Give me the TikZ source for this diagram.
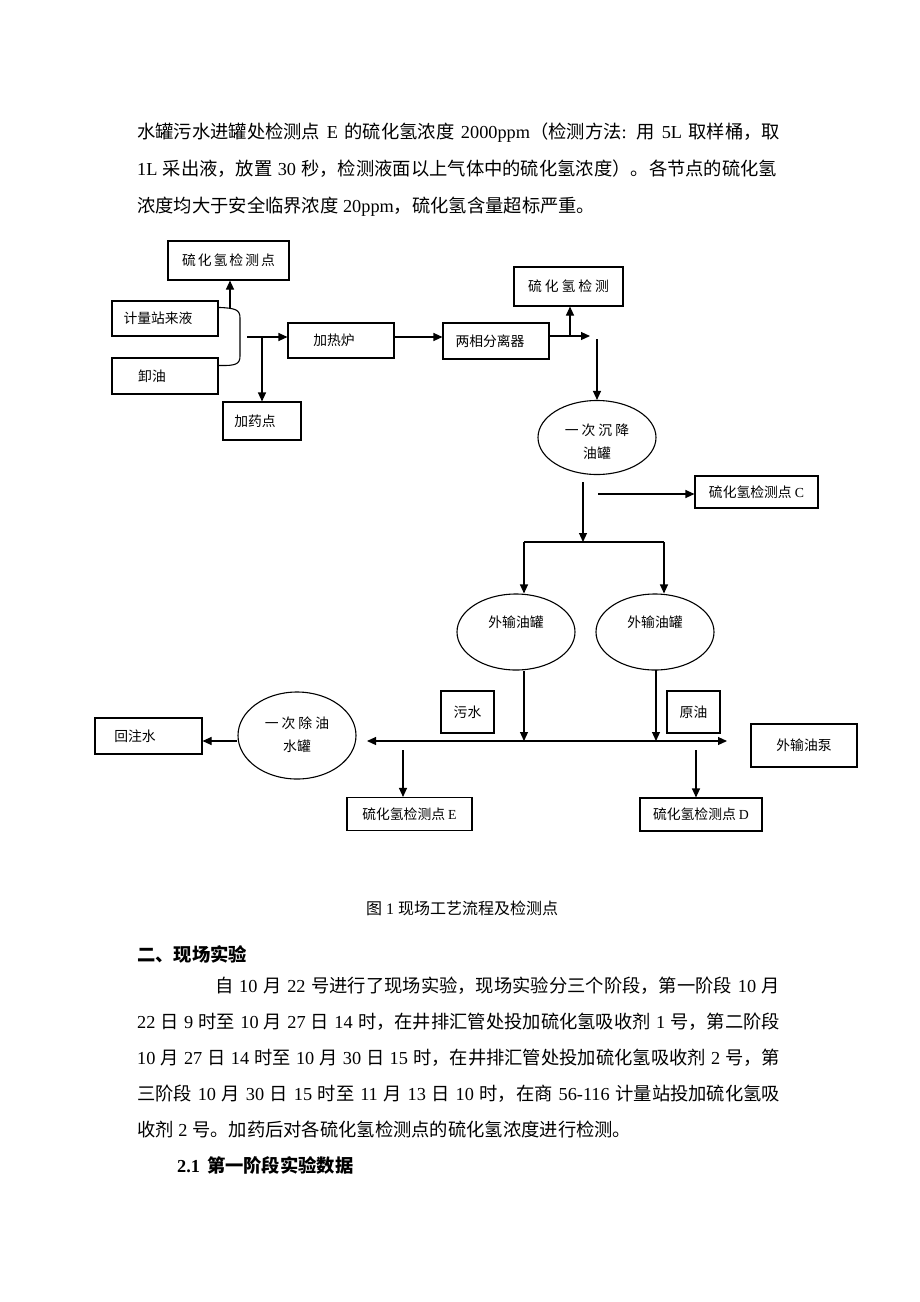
\documentclass[tikz,border=0pt]{standalone}
\usepackage{fontspec}
\setmainfont{Liberation Serif}
\newfontfamily\cjk{Noto Sans CJK SC}
\usetikzlibrary{arrows.meta,shapes.geometric,calc}
\newcommand{\zh}[1]{{\cjk #1}}
\newcommand{\gp}{\hspace{3pt}}
\newcommand{\gq}{\hspace{2pt}}
\newcommand{\dfont}{\fontsize{13.8}{23}\selectfont\cjk}
\newcommand{\bodyfont}{\fontsize{18.3}{22}\selectfont}
\tikzset{
  line/.style={line width=1.1pt, draw=black},
  arr/.style={line, -{Triangle[length=9pt,width=8pt]}},
  arrtwo/.style={line, {Triangle[length=9pt,width=8pt]}-{Triangle[length=9pt,width=8pt]}},
  box/.style={draw, line width=1.1pt, inner sep=0pt, font=\dfont},
  tank/.style={ellipse, draw, line width=1.1pt, inner sep=0pt, font=\dfont, align=center,
               minimum width=118pt},
  body/.style={inner sep=0pt, font=\bodyfont, anchor=base west},
}
\begin{document}
\begin{tikzpicture}[x=1pt,y=-1pt]
\fill[white] (0,0) rectangle (920,1302);
\useasboundingbox (0,0) rectangle (920,1302);

% ---- text above the figure ----
\node[body] (p1) at (137,138) {\makebox[643pt][s]{\zh{水罐污水进罐处检测点} E \zh{的硫化氢浓度} 2000ppm\zh{（检测方法}: \zh{用} 5L \zh{取样桶，取}}};
\node[body] (p2) at (137,175) {\makebox[640pt][s]{1L \zh{采出液，放置} 30 \zh{秒，检测液面以上气体中的硫化氢浓度）。各节点的硫化氢}}};
\node[body] (p3) at (137,212) {\zh{浓度均大于安全临界浓度} 20ppm\zh{，硫化氢含量超标严重。}};

% ---- figure nodes ----
\node[box, minimum width=121pt, minimum height=39pt] (tl) at (228.5,260.5) {硫\gq 化\gq 氢\gq 检\gq 测\gq 点};
\node[box, minimum width=106pt, minimum height=35pt] (jl) at (165,318.5) {计量站来液\hspace*{14pt}};
\node[box, minimum width=106pt, minimum height=36pt] (xy) at (165,376) {卸油\hspace*{26pt}};
\node[box, minimum width=106pt, minimum height=35pt] (jrl) at (341,340.5) {加热炉\hspace*{14pt}};
\node[box, minimum width=78pt, minimum height=38pt] (jyd) at (262,421) {加药点\hspace*{14pt}};
\node[box, minimum width=106pt, minimum height=36pt] (lx) at (496,341) {两相分离器\hspace*{12pt}};
\node[box, minimum width=109pt, minimum height=39pt] (tr) at (568.5,286.5) {硫\gp 化\gp 氢\gp 检\gp 测};
\node[tank, minimum height=74pt, text height=43pt, text depth=1.6pt] (e1) at (597,437.5) {一\gp 次\gp 沉\gp 降\\油罐};
\node[box, minimum width=123pt, minimum height=32pt] (C) at (756.5,492) {硫化氢检测点 {\rmfamily C}};
\node[tank, minimum height=76pt, text height=12pt, text depth=21.6pt] (e2) at (516,632) {外输油罐};
\node[tank, minimum height=76pt, text height=12pt, text depth=21.6pt] (e3) at (655,632) {外输油罐};
\node[box, minimum width=53pt, minimum height=42pt] (ws) at (467.5,712) {污水};
\node[box, minimum width=53pt, minimum height=42pt] (yy) at (693.5,712) {原油};
\node[box, minimum width=106pt, minimum height=43pt] (pump) at (804,745.5) {外输油泵};
\node[box, minimum width=107pt, minimum height=36pt] (hz) at (148.5,736) {回注水\hspace*{27pt}};
\node[tank, minimum height=87pt, text height=33pt, text depth=1.6pt] (e4) at (297,735.5) {一\gp 次\gp 除\gp 油\\水罐};
\node[box, minimum width=125pt, minimum height=33pt] (E) at (409.5,814) {硫化氢检测点 {\rmfamily E}};
\node[box, minimum width=122pt, minimum height=33pt] (D) at (701,814.5) {硫化氢检测点 {\rmfamily D}};

% ---- free points ----
\coordinate (bu) at (230,308.5);
\coordinate (m1) at (247,337);
\coordinate (m2) at (262,338);
\coordinate (r1) at (590,336);
\coordinate (r2) at (570,336);
\coordinate (r3) at (597,339);
\coordinate (c1) at (583,482);
\coordinate (c2) at (583,542);
\coordinate (c3) at (598,494);
\coordinate (s1) at (524,542);
\coordinate (s2) at (664,542);
\coordinate (v2) at (656,670);
\coordinate (mlL) at (367,741);
\coordinate (mlR) at (727,741);
\coordinate (t1) at (403,750);
\coordinate (t2) at (696,750);

% ---- connectors ----
\draw[line] ($(jl.north east)+(0,7)$) .. controls (236,308) and (240,310) .. (240,318)
   -- (240,356) .. controls (240,364) and (236,366) .. ($(xy.north east)+(0,8)$);
\draw[arr] (bu) -- (bu |- tl.south);
\draw[arr] (m1) -- (m1 -| jrl.west);
\draw[arr] (m2) -- (jyd.north);
\draw[arr] (jrl.east |- m1) -- (lx.west |- m1);
\draw[arr] (lx.east |- r1) -- (r1);
\draw[arr] (r2) -- (r2 |- tr.south);
\draw[arr] (r3) -- (e1.north);
\draw[arr] (c1) -- (c2);
\draw[arr] (c3) -- (c3 -| C.west);
\draw[line] (s1) -- (s2);
\draw[arr] (s1) -- (s1 |- e2.north);
\draw[arr] (s2) -- (s2 |- e3.north);
\draw[arr] (s1 |- e2.south) -- (s1 |- mlL);
\draw[arr] (v2) -- (v2 |- mlL);
\draw[arrtwo] (mlL) -- (mlR);
\draw[arr] (e4.west |- mlL) -- (hz.east |- mlL);
\draw[arr] (t1) -- (t1 |- E.north);
\draw[arr] (t2) -- (t2 |- D.north);

% ---- caption and text below ----
\node[inner sep=0pt, font=\fontsize{16}{19}\selectfont, anchor=base] (cap) at (462,914) {\zh{图} 1 \zh{现场工艺流程及检测点}};
\node[body] (h1) at (137,961) {\bfseries\zh{二、现场实验}};
\node[body] (q1) at (215,992) {\makebox[565pt][s]{\zh{自} 10 \zh{月} 22 \zh{号进行了现场实验，现场实验分三个阶段，第一阶段} 10 \zh{月}}};
\node[body] (q2) at (137,1028) {\makebox[643pt][s]{22 \zh{日} 9 \zh{时至} 10 \zh{月} 27 \zh{日} 14 \zh{时，在井排汇管处投加硫化氢吸收剂} 1 \zh{号，第二阶段}}};
\node[body] (q3) at (137,1064) {\makebox[643pt][s]{10 \zh{月} 27 \zh{日} 14 \zh{时至} 10 \zh{月} 30 \zh{日} 15 \zh{时，在井排汇管处投加硫化氢吸收剂} 2 \zh{号，第}}};
\node[body] (q4) at (137,1100) {\makebox[643pt][s]{\zh{三阶段} 10 \zh{月} 30 \zh{日} 15 \zh{时至} 11 \zh{月} 13 \zh{日} 10 \zh{时，在商} 56-116 \zh{计量站投加硫化氢吸}}};
\node[body] (q5) at (137,1136) {\zh{收剂} 2 \zh{号。加药后对各硫化氢检测点的硫化氢浓度进行检测。}};
\node[body] (h2) at (177,1172) {\bfseries 2.1\hspace{7pt}\zh{第一阶段实验数据}};
\end{tikzpicture}
\end{document}
